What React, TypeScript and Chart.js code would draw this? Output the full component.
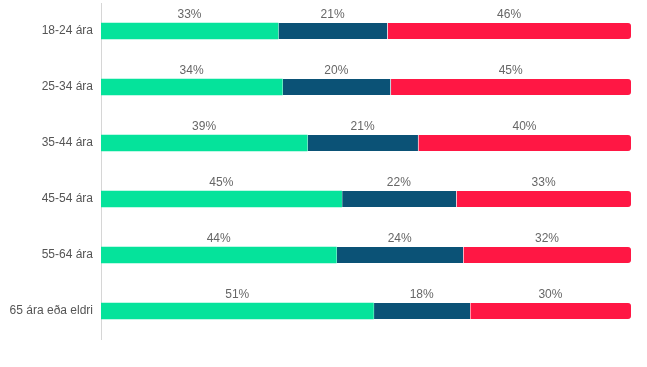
import React, { useEffect, useRef } from "react";
import { Chart, registerables } from "chart.js";

Chart.register(...registerables);

const categories = ["18-24 ára", "25-34 ára", "35-44 ára", "45-54 ára", "55-64 ára", "65 ára eða eldri"];
const seriesA = [33.4, 34.2, 38.9, 45.4, 44.4, 51.4];
const seriesB = [20.6, 20.4, 20.9, 21.6, 23.9, 18.2];
const seriesC = [46.0, 45.4, 40.2, 33.0, 31.7, 30.4];
const colors = ["#05e39b", "#0b5276", "#ff1744"];

const labelPlugin = {
  id: "segLabels",
  afterDatasetsDraw(chart: any) {
    const ctx = chart.ctx;
    ctx.save();
    ctx.font = "12px Arial, 'Liberation Sans', sans-serif";
    ctx.fillStyle = "#666";
    ctx.textAlign = "center";
    ctx.textBaseline = "alphabetic";
    chart.data.datasets.forEach((ds: any, i: number) => {
      const meta = chart.getDatasetMeta(i);
      meta.data.forEach((bar: any, j: number) => {
        const props = bar.getProps(["x", "y", "base", "height"], true);
        const cx = (props.x + props.base) / 2;
        const top = props.y - props.height / 2;
        ctx.fillText(Math.round(ds.data[j]) + "%", cx, top - 5);
      });
    });
    ctx.restore();
  },
};

export default function App() {
  const ref = useRef<HTMLCanvasElement>(null);
  useEffect(() => {
    if (!ref.current) return;
    const mk = (label: string, data: number[], color: string, idx: number) => ({
      label,
      data,
      backgroundColor: color,
      borderColor: "#ffffff",
      borderWidth: idx === 0 ? 0 : { left: 1, right: 0, top: 0, bottom: 0 },
      borderSkipped: false,
      borderRadius: idx === 2 ? { topLeft: 0, bottomLeft: 0, topRight: 3, bottomRight: 3 } : 0,
      barThickness: 16,
    });
    const chart = new Chart(ref.current, {
      type: "bar",
      data: {
        labels: categories,
        datasets: [mk("A", seriesA, colors[0], 0), mk("B", seriesB, colors[1], 1), mk("C", seriesC, colors[2], 2)],
      },
      options: {
        indexAxis: "y",
        animation: false,
        responsive: false,
        maintainAspectRatio: false,
        layout: { padding: { top: 3, right: 16, bottom: 28, left: 0 } },
        plugins: { legend: { display: false }, tooltip: { enabled: false } },
        events: [],
        scales: {
          x: { stacked: true, min: 0, max: 100, display: false },
          y: {
            stacked: true,
            grid: { display: false },
            border: { display: true, color: "#d6d6d6", width: 1, dash: [2, 3] },
            ticks: { color: "#555", font: { size: 12, family: "Arial, 'Liberation Sans', sans-serif" }, padding: 0 },
            afterFit: (scale: any) => {
              scale.width = 101;
              scale.paddingTop = 0;
              scale.paddingBottom = 0;
            },
          },
        },
      },
      plugins: [labelPlugin],
    });
    return () => chart.destroy();
  }, []);
  return (
    <div style={{ position: "absolute", left: 0, top: 0, width: 647, height: 367, background: "#fff" }}>
      <canvas ref={ref} width={647} height={367} />
    </div>
  );
}
